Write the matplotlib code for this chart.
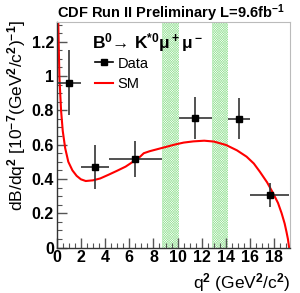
import matplotlib
matplotlib.use("Agg")
import matplotlib.pyplot as plt
from matplotlib.lines import Line2D
import numpy as np

# measured differential branching fraction, CDF B0 -> K*0 mu mu
bin_lo = [0.0, 2.0, 4.3, 10.09, 14.18, 16.0]
bin_hi = [2.0, 4.3, 8.68, 12.86, 16.0, 19.25]
dbdq2 = [0.96, 0.47, 0.515, 0.755, 0.75, 0.305]
err_up = [0.19, 0.13, 0.105, 0.125, 0.12, 0.07]
err_dn = [0.19, 0.13, 0.105, 0.125, 0.115, 0.07]

# charmonium vetoes (J/psi, psi(2S))
veto_lo = [8.68, 12.86]
veto_hi = [10.09, 14.18]

# SM prediction
sm_q2 = [0.1, 0.13, 0.22, 0.36, 0.5, 0.7, 0.96, 1.3, 1.65, 2.0, 2.4, 3.0, 3.6,
         4.3, 5.0, 5.7, 6.3, 6.9, 7.2, 7.7, 8.4, 9.1, 9.8, 10.5, 11.3, 12.2,
         13.0, 14.0, 14.9, 15.7, 16.3, 16.8, 17.4, 17.9, 18.3, 18.6, 18.85,
         19.0, 19.12, 19.22]
sm_val = [1.5, 1.31, 1.0, 0.80, 0.68, 0.58, 0.50, 0.45, 0.418, 0.398, 0.388,
          0.392, 0.403, 0.425, 0.448, 0.472, 0.50, 0.53, 0.55, 0.562, 0.575,
          0.588, 0.601, 0.612, 0.619, 0.623, 0.618, 0.598, 0.567, 0.53, 0.49,
          0.442, 0.38, 0.316, 0.26, 0.20, 0.14, 0.092, 0.05, 0.0]

plt.rcParams.update({
    "font.family": ["Liberation Sans", "DejaVu Sans"],
    "font.weight": "bold",
    "mathtext.fontset": "custom",
    "mathtext.rm": "Liberation Sans:bold",
    "mathtext.it": "Liberation Sans:bold",
    "mathtext.bf": "Liberation Sans:bold",
    "mathtext.default": "rm",
    "hatch.linewidth": 0.4,
    "hatch.color": "#9ee49e",
})

fig = plt.figure(figsize=(3.0, 2.93), dpi=100)
ax = fig.add_axes([0.189, 0.155, 0.778, 0.77])

for lo, hi in zip(veto_lo, veto_hi):
    ax.axvspan(lo, hi, facecolor="none", edgecolor="#9ee49e", hatch="x" * 14,
               linewidth=0, zorder=1)

ax.plot(sm_q2, sm_val, color="red", lw=1.5, zorder=2)

lo = np.array(bin_lo)
hi = np.array(bin_hi)
xc = 0.5 * (lo + hi)
ax.errorbar(xc, dbdq2, xerr=[xc - lo, hi - xc], yerr=[err_dn, err_up],
            fmt="s", color="black", ecolor="#333333", elinewidth=1.2,
            markersize=5, capsize=0, zorder=3)

ax.set_xlim(0, 19.3)
ax.set_ylim(0, 1.315)
ax.set_xticks(np.arange(0, 19, 2))
ax.set_xticks(np.arange(0, 19.3, 0.5), minor=True)
ax.set_yticks([0, 0.2, 0.4, 0.6, 0.8, 1.0, 1.2])
ax.set_yticklabels(["0", "0.2", "0.4", "0.6", "0.8", "1", "1.2"])
ax.set_yticks(np.arange(0, 1.31, 0.05), minor=True)
ax.tick_params(which="both", direction="in", top=False, right=False,
               labelsize=11.5, color="#555555")
ax.tick_params(which="major", length=7, width=1, pad=2)
ax.tick_params(which="minor", length=3.5, width=0.8)
for s in ("top", "right"):
    ax.spines[s].set_color("#bbbbbb")
    ax.spines[s].set_linewidth(0.8)
for s in ("left", "bottom"):
    ax.spines[s].set_color("#333333")
    ax.spines[s].set_linewidth(1.0)

ax.set_xlabel(r"q$^2$ (GeV$^2$/c$^2$)", fontsize=12.5, loc="right", labelpad=4)
ax.set_ylabel(r"dB/dq$^2$ [10$^{-7}$(GeV$^2$/c$^2$)$^{-1}$]", fontsize=12.5,
              loc="top")
ax.yaxis.set_label_coords(-0.125, 1.01)

fig.text(0.19, 0.94, r"CDF Run II Preliminary L=9.6fb$^{-1}$", fontsize=10.5,
         ha="left", va="baseline")
ax.text(0.15, 0.885, r"B$^0$→ K$^{*0}$μ$^+$μ$^-$", fontsize=12.5,
        transform=ax.transAxes, ha="left", va="baseline")

handles = [
    Line2D([], [], color="black", marker="s", markersize=5, lw=1.2),
    Line2D([], [], color="red", lw=1.5),
]
ax.legend(handles, ["Data", "SM"], loc="upper left", bbox_to_anchor=(0.11, 0.905),
          frameon=False, handlelength=1.2, handletextpad=0.3, labelspacing=0.45,
          prop={"size": 10.5, "weight": "normal"})

fig.savefig("out.png", dpi=100)
